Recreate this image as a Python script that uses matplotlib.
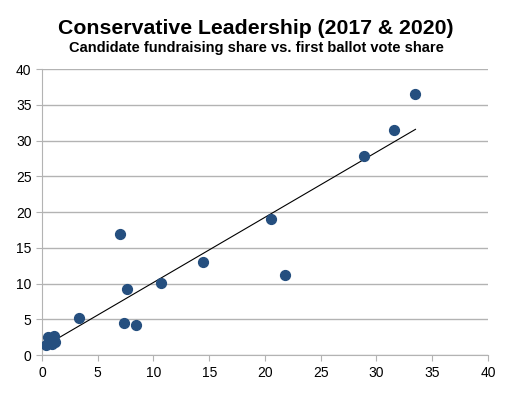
import numpy as np
import matplotlib
matplotlib.use('Agg')
import matplotlib.pyplot as plt

plt.rcParams['font.family'] = ['Liberation Sans', 'DejaVu Sans']

# fundraising share (%) vs first ballot vote share (%)
fund_share = [33.5, 31.6, 28.9, 20.5, 21.8, 14.4, 10.7, 7.0, 7.6, 7.4, 8.4, 3.3,
              0.4, 0.5, 1.1, 1.2, 0.9]
vote_share = [36.5, 31.5, 27.8, 19.1, 11.2, 13.0, 10.1, 16.9, 9.3, 4.5, 4.2, 5.2,
              1.4, 2.5, 2.7, 1.8, 1.6]
x_ticks = [0, 5, 10, 15, 20, 25, 30, 35, 40]
y_ticks = [0, 5, 10, 15, 20, 25, 30, 35, 40]

fig = plt.figure(figsize=(5.12, 3.99), dpi=100)
ax = fig.add_axes([0.082, 0.110, 0.871, 0.717])

ax.scatter(fund_share, vote_share, s=50, color='#254f7f', zorder=3)

# linear trend line
slope, intercept = np.polyfit(fund_share, vote_share, 1)
xs = np.array([min(fund_share), max(fund_share)])
ax.plot(xs, slope * xs + intercept, color='black', linewidth=0.8, zorder=2)

ax.set_xlim(0, 40)
ax.set_ylim(0, 40)
ax.set_xticks(x_ticks)
ax.set_yticks(y_ticks)
ax.grid(axis='y', color='#b3b3b3', linewidth=1)
ax.set_axisbelow(True)
for side in ['top', 'right']:
    ax.spines[side].set_visible(False)
for side in ['left', 'bottom']:
    ax.spines[side].set_color('#b3b3b3')
ax.tick_params(colors='#b3b3b3', labelcolor='black', labelsize=10, length=4)

fig.text(0.5, 0.916, 'Conservative Leadership (2017 & 2020)', ha='center',
         fontsize=15.3, fontweight='bold')
fig.text(0.5, 0.869, 'Candidate fundraising share vs. first ballot vote share',
         ha='center', fontsize=10.5, fontweight='bold')

fig.savefig('out.png', dpi=100)
